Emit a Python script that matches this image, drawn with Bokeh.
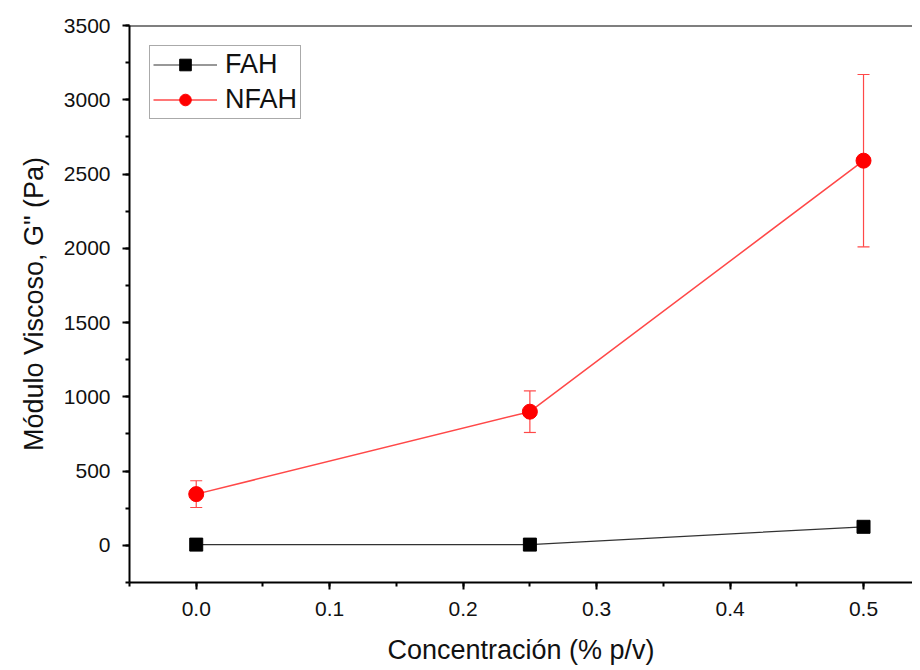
from bokeh.plotting import figure
from bokeh.models import (ColumnDataSource, Whisker, TeeHead, Range1d, Span,
                          SingleIntervalTicker, Legend, LegendItem, NumeralTickFormatter)
from bokeh.embed import file_html
from bokeh.resources import INLINE

conc = [0.0, 0.25, 0.5]
fah = [5, 5, 125]
nfah = [345, 900, 2590]
nfah_err = [90, 140, 580]

FONT = "Liberation Sans"

p = figure(width=912, height=668, output_backend="svg", toolbar_location=None,
           x_range=Range1d(-0.05, 0.5367), y_range=Range1d(-250, 3500),
           min_border_left=129, min_border_right=0, min_border_top=25, min_border_bottom=86,
           x_axis_label="Concentración (% p/v)", y_axis_label="Módulo Viscoso, G\" (Pa)")
p.grid.visible = False
p.outline_line_color = None
p.background_fill_color = "white"
p.border_fill_color = "white"

for ax in (p.xaxis[0], p.yaxis[0]):
    ax.axis_line_width = 2
    ax.axis_line_color = "black"
    ax.major_tick_line_color = "black"
    ax.major_tick_line_width = 2
    ax.minor_tick_line_color = "black"
    ax.minor_tick_line_width = 2
    ax.major_tick_in = 0
    ax.major_tick_out = 7
    ax.minor_tick_in = 0
    ax.minor_tick_out = 4
    ax.major_label_text_font = FONT
    ax.major_label_text_font_size = "21px"
    ax.major_label_text_color = "#111111"
    ax.axis_label_text_font = FONT
    ax.axis_label_text_font_size = "27px"
    ax.axis_label_text_font_style = "normal"
    ax.axis_label_text_color = "#111111"

p.xaxis[0].ticker = SingleIntervalTicker(interval=0.1, num_minor_ticks=2)
p.xaxis[0].formatter = NumeralTickFormatter(format="0.0")
p.yaxis[0].ticker = SingleIntervalTicker(interval=500, num_minor_ticks=2)
p.xaxis[0].major_label_standoff = 12
p.xaxis[0].axis_label_standoff = 16
p.yaxis[0].major_label_standoff = 12
p.yaxis[0].axis_label_standoff = 12

p.add_layout(Span(location=3500, dimension="width", line_color="black", line_width=2))

src_n = ColumnDataSource(dict(x=conc, y=nfah,
                              upper=[v + e for v, e in zip(nfah, nfah_err)],
                              lower=[v - e for v, e in zip(nfah, nfah_err)]))
src_f = ColumnDataSource(dict(x=conc, y=fah))

RED_LINE = "#ff4848"
w = Whisker(source=src_n, base="x", upper="upper", lower="lower",
            line_color=RED_LINE, line_width=1.2,
            upper_head=TeeHead(size=12, line_color=RED_LINE, line_width=1.2),
            lower_head=TeeHead(size=12, line_color=RED_LINE, line_width=1.2))
p.add_layout(w)

lf = p.line("x", "y", source=src_f, line_color="#333333", line_width=1.2)
mf = p.scatter("x", "y", source=src_f, marker="square", size=13, fill_color="black", line_color="black")
ln = p.line("x", "y", source=src_n, line_color=RED_LINE, line_width=1.5)
mn = p.scatter("x", "y", source=src_n, marker="circle", size=15, fill_color="#ff0000", line_color="#ff0000")

legend = Legend(items=[LegendItem(label="FAH", renderers=[lf, mf]),
                       LegendItem(label="NFAH", renderers=[ln, mn])],
                location="top_left", label_text_font=FONT, label_text_font_size="27px",
                label_text_color="#111111",
                border_line_color="#555555", border_line_width=1,
                glyph_width=64, glyph_height=29, label_standoff=8, label_height=29,
                padding=3, spacing=4, margin=20)
p.add_layout(legend, "center")

open("out.html", "w").write(file_html(p, INLINE))
